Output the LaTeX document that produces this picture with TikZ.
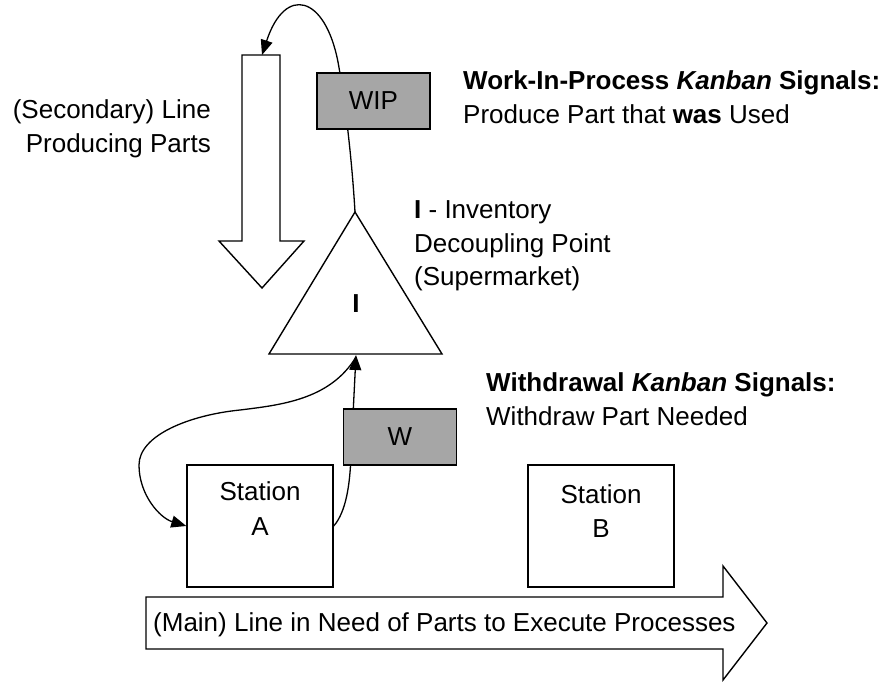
\documentclass[tikz,border=0pt]{standalone}
\usepackage{fontspec}
\setmainfont{Liberation Sans}
\usetikzlibrary{arrows.meta}
\definecolor{kanbangray}{RGB}{166,166,166}
\begin{document}
\begin{tikzpicture}[x=1pt,y=-1pt,
  outline/.style={draw=black,line width=1.4pt,fill=white,line join=miter},
  card/.style={draw=black,line width=1.4pt,fill=kanbangray,minimum width=113pt,
    minimum height=56pt,inner sep=0pt,font=\fontsize{26}{34}\selectfont},
  station/.style={draw=black,line width=1.4pt,fill=white,minimum width=146pt,
    minimum height=122pt,inner sep=0pt},
  flow/.style={line width=1.3pt,-{Triangle[length=15pt,width=12pt]}},
  txt/.style={inner sep=0pt,font=\fontsize{26}{34}\selectfont},
]
\useasboundingbox (0,0) rectangle (895,681);

% ---- key points of the shapes
\coordinate (apex) at (355,212);
\coordinate (tribase) at (356,355);
\coordinate (secTop) at (262,55);

% ---- secondary line (downward block arrow)
\draw[outline] (242,55) -- (280,55) -- (280,241) -- (304,241) -- (262,288)
  -- (219,241) -- (242,241) -- cycle;

% ---- main line (rightward block arrow)
\draw[outline] (146,597) -- (723,597) -- (723,566) -- (767,623) -- (723,680)
  -- (723,649) -- (146,649) -- cycle;
\node[txt,anchor=base west] (mainlbl) at (153,631)
  {(Main) Line in Need of Parts to Execute Processes};

% ---- stations
\node[station] (staA) at (260,526) {};
\node[station] (staB) at (601,526) {};

% ---- work-in-process kanban loop
\draw[flow] (apex) .. controls (352,160) and (345,100) .. (338,62)
  .. controls (325,-5) and (285,-15) .. (secTop);

% ---- withdrawal kanban loop
\draw[flow] (staA.east) .. controls (346,512) and (350,485) .. (351,455)
  -- (tribase);
\draw[flow] (356,357) .. controls (330,400) and (280,405) .. (240,410)
  .. controls (190,415) and (139,435) .. (139,465)
  .. controls (139,495) and (160,518) .. (staA.west);

% ---- kanban cards
\node[card] (wip) at (373.5,101) {WIP};
\node[card] (w) at (400,437) {W};

% ---- inventory decoupling point
\draw[outline] (apex) -- (442,354) -- (269,354) -- cycle;
\node[txt,anchor=base] (invI) at (356,312) {\textbf{I}};

% ---- station labels
\node[txt,anchor=base] (staA1) at (260,500) {Station};
\node[txt,anchor=base] (staA2) at (260,535) {A};
\node[txt,anchor=base] (staB1) at (601,503) {Station};
\node[txt,anchor=base] (staB2) at (601,537) {B};

% ---- annotations
\node[txt,anchor=base east] (sec1) at (211,118) {(Secondary) Line};
\node[txt,anchor=base east] (sec2) at (211,152) {Producing Parts};

\node[txt,anchor=base west] (wip1) at (463,89)
  {\textbf{Work-In-Process \textit{Kanban} Signals:}};
\node[txt,anchor=base west] (wip2) at (463,123)
  {Produce Part that \textbf{was} Used};

\node[txt,anchor=base west] (inv1) at (414,218) {\textbf{I} - Inventory};
\node[txt,anchor=base west] (inv2) at (414,252) {Decoupling Point};
\node[txt,anchor=base west] (inv3) at (414,285) {(Supermarket)};

\node[txt,anchor=base west] (wd1) at (486,391)
  {\textbf{Withdrawal \textit{Kanban} Signals:}};
\node[txt,anchor=base west] (wd2) at (486,425) {Withdraw Part Needed};
\end{tikzpicture}
\end{document}
